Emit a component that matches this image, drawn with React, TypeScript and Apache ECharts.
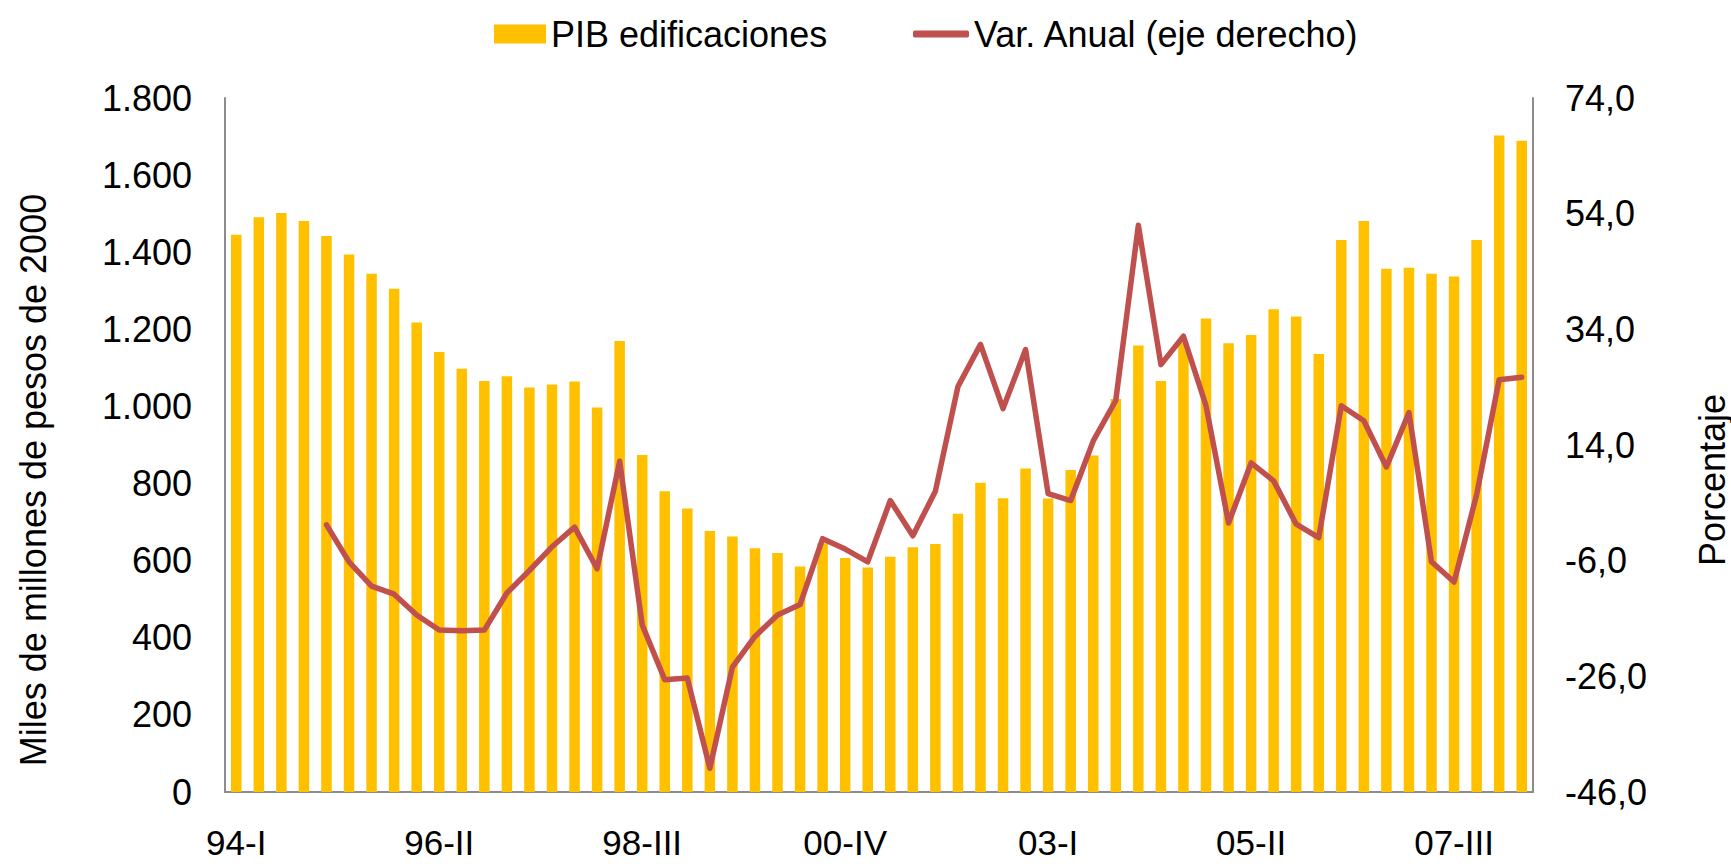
import React, { useEffect, useRef } from "react";
import * as echarts from "echarts";

const categories: string[] = [
  "94-I", "94-II", "94-III", "94-IV",
  "95-I", "95-II", "95-III", "95-IV",
  "96-I", "96-II", "96-III", "96-IV",
  "97-I", "97-II", "97-III", "97-IV",
  "98-I", "98-II", "98-III", "98-IV",
  "99-I", "99-II", "99-III", "99-IV",
  "00-I", "00-II", "00-III", "00-IV",
  "01-I", "01-II", "01-III", "01-IV",
  "02-I", "02-II", "02-III", "02-IV",
  "03-I", "03-II", "03-III", "03-IV",
  "04-I", "04-II", "04-III", "04-IV",
  "05-I", "05-II", "05-III", "05-IV",
  "06-I", "06-II", "06-III", "06-IV",
  "07-I", "07-II", "07-III", "07-IV",
  "08-I", "08-II",
];

const pibEdificaciones: number[] = [
  1445, 1491, 1502, 1481,
  1442, 1394, 1344, 1305,
  1218, 1141, 1098, 1066,
  1078, 1049, 1057, 1065,
  997, 1170, 874, 780,
  735, 677, 663, 632,
  620, 585, 645, 607,
  582, 610, 635, 643,
  722, 802, 762, 839,
  761, 835, 873, 1019,
  1158, 1066, 1165, 1228,
  1164, 1185, 1252, 1233,
  1136, 1432, 1481, 1357,
  1360, 1344, 1337, 1432,
  1703, 1689,
];

const varAnual: (number | null)[] = [
  null, null, null, null,
  0.2, -6.2, -10.4, -11.8,
  -15.4, -18.0, -18.1, -18.0,
  -11.6, -7.7, -3.6, -0.2,
  -7.4, 11.2, -17.1, -26.6,
  -26.3, -41.9, -24.4, -19.1,
  -15.4, -13.6, -2.2, -4.0,
  -6.2, 4.4, -1.7, 6.0,
  24.1, 31.4, 20.3, 30.5,
  5.6, 4.4, 14.7, 21.7,
  52.0, 27.9, 32.8, 20.8,
  0.5, 10.9, 7.8, 0.3,
  -2.0, 20.8, 18.2, 10.2,
  19.6, -6.2, -9.7, 5.4,
  25.3, 25.7,
];

const rightTicks: number[] = [-46, -26, -6, 14, 34, 54, 74];

const FONT = "'Liberation Sans', Arial, Helvetica, sans-serif";
const AXIS_GRAY = "#8c8c8c";

export default function App() {
  const ref = useRef<HTMLDivElement | null>(null);

  useEffect(() => {
    if (!ref.current) return;
    const chart = echarts.init(ref.current, undefined, { renderer: "svg" });
    chart.setOption({
      animation: false,
      backgroundColor: "#ffffff",
      textStyle: { fontFamily: FONT },
      grid: { left: 225, right: 198, top: 98, bottom: 72, containLabel: false },
      legend: [
        {
          data: ["PIB edificaciones"],
          left: 489,
          top: 11,
          itemWidth: 52,
          itemHeight: 19,
          icon: "rect",
          textStyle: { fontSize: 36, color: "#000", fontFamily: FONT },
          selectedMode: false,
        },
        {
          data: [{ name: "Var. Anual (eje derecho)", icon: "roundRect" }],
          left: 908,
          top: 11,
          itemWidth: 56,
          itemHeight: 7,
          textStyle: { fontSize: 36, color: "#000", fontFamily: FONT },
          selectedMode: false,
        },
      ],
      xAxis: {
        type: "category",
        data: categories,
        boundaryGap: true,
        axisLine: { show: true, lineStyle: { color: AXIS_GRAY, width: 2 } },
        axisTick: { show: false },
        axisLabel: {
          interval: 8,
          fontSize: 35,
          lineHeight: 36,
          color: "#000",
          margin: 32,
          fontFamily: FONT,
        },
        splitLine: { show: false },
      },
      yAxis: [
        {
          type: "value",
          min: 0,
          max: 1800,
          interval: 200,
          position: "left",
          axisLine: { show: true, lineStyle: { color: AXIS_GRAY, width: 2 } },
          axisTick: { show: false },
          splitLine: { show: false },
          axisLabel: {
            fontSize: 36,
            color: "#000",
            margin: 33,
            fontFamily: FONT,
            formatter: (v: number) =>
              String(Math.round(v)).replace(/\B(?=(\d{3})+(?!\d))/g, "."),
          },
        },
        {
          type: "value",
          min: -46,
          max: 74,
          position: "right",
          axisLine: { show: true, lineStyle: { color: AXIS_GRAY, width: 2 } },
          axisTick: { show: false },
          splitLine: { show: false },
          axisLabel: {
            customValues: rightTicks,
            fontSize: 36,
            color: "#000",
            margin: 32,
            fontFamily: FONT,
            formatter: (v: number) => v.toFixed(1).replace(".", ","),
          },
        },
      ],
      graphic: [
        {
          type: "text",
          x: 33,
          y: 480,
          rotation: Math.PI / 2,
          style: {
            text: "Miles de millones de pesos de 2000",
            font: `36px ${FONT}`,
            fill: "#000",
            textAlign: "center",
            textVerticalAlign: "middle",
          },
        },
        {
          type: "text",
          x: 1712,
          y: 480,
          rotation: Math.PI / 2,
          style: {
            text: "Porcentaje",
            font: `36px ${FONT}`,
            fill: "#000",
            textAlign: "center",
            textVerticalAlign: "middle",
          },
        },
      ],
      series: [
        {
          name: "PIB edificaciones",
          type: "bar",
          data: pibEdificaciones,
          yAxisIndex: 0,
          barWidth: 10.5,
          itemStyle: { color: "#FFC000" },
        },
        {
          name: "Var. Anual (eje derecho)",
          type: "line",
          data: varAnual,
          yAxisIndex: 1,
          showSymbol: false,
          symbol: "none",
          lineStyle: { color: "#C0504D", width: 5.5, cap: "round", join: "round" },
          itemStyle: { color: "#C0504D" },
        },
      ],
    });
    return () => chart.dispose();
  }, []);

  return (
    <div
      ref={ref}
      style={{ position: "fixed", left: 0, top: 0, width: 1731, height: 864 }}
    />
  );
}
